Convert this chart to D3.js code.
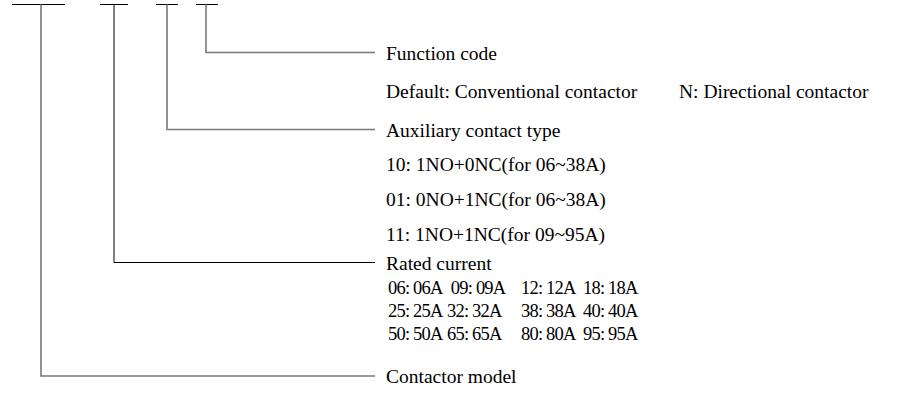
<!DOCTYPE html>
<html>
<head>
<meta charset="utf-8">
<script src="https://cdn.jsdelivr.net/npm/d3@7"></script>
<style>
    body { margin: 0; background: #fff; }
    text { font-family: "Liberation Serif", "Times New Roman", serif; font-size: 19.5px; fill: #000; white-space: pre; }
    text.cur { font-size: 18.5px; letter-spacing: -0.8px; }
</style>
</head>
<body>
<svg id="chart" width="923" height="405"></svg>
<script>
// Model number fields, left to right, and what each one means
var fields = ["Contactor model", "Rated current", "Auxiliary contact type", "Function code"];
var functionCodes = ["Default: Conventional contactor", "N: Directional contactor"];
var auxCodes = ["10: 1NO+0NC(for 06~38A)", "01: 0NO+1NC(for 06~38A)", "11: 1NO+1NC(for 09~95A)"];
var currentCodes = [
    ["06: 06A", " 09: 09A", "12: 12A", "18: 18A"],
    ["25: 25A", "32: 32A", "38: 38A", "40: 40A"],
    ["50: 50A", "65: 65A", "80: 80A", "95: 95A"]
];

var svg = d3.select("#chart");

// layout of the code slots at the top (bar from / to, stem) and the leader line heights
var slots = [
    {x0: 12, x1: 65, stem: 41, lead: 376, grey: true},
    {x0: 100, x1: 128, stem: 114, lead: 262.5, grey: false},
    {x0: 156, x1: 178, stem: 167, lead: 129.5, grey: true},
    {x0: 196, x1: 218, stem: 206, lead: 52.5, grey: true}
];
var topY = 4.5, lineEnd = 375, textX = 386;

var g = svg.append("g");

// top bars
g.selectAll("line.bar").data(slots).enter().append("line")
    .attr("class", "bar")
    .attr("x1", function (d) { return d.x0; })
    .attr("x2", function (d) { return d.x1; })
    .attr("y1", topY).attr("y2", topY)
    .attr("stroke", "#000").attr("stroke-width", 1);

// stems + leaders
g.selectAll("path.lead").data(slots).enter().append("path")
    .attr("class", "lead")
    .attr("fill", "none")
    .attr("stroke", function (d) { return d.grey ? "#7a7a7a" : "#000"; })
    .attr("stroke-width", function (d) { return d.grey ? 1.6 : 1; })
    .attr("d", function (d) {
        return "M" + d.stem + "," + topY + "V" + d.lead + "H" + lineEnd;
    });

// field names next to the end of each leader
g.selectAll("text.field").data(slots).enter().append("text")
    .attr("class", "field")
    .attr("x", textX)
    .attr("y", function (d) { return d.lead + 7; })
    .text(function (d, i) { return fields[i]; });

// function code explanation
var fnX = [textX, 679];
g.selectAll("text.fn").data(functionCodes).enter().append("text")
    .attr("x", function (d, i) { return fnX[i]; })
    .attr("y", 98)
    .text(function (d) { return d; });

// auxiliary contact options
var auxY = d3.scaleLinear().domain([0, 1]).range([171, 206]);
g.selectAll("text.aux").data(auxCodes).enter().append("text")
    .attr("x", textX)
    .attr("y", function (d, i) { return auxY(i); })
    .text(function (d) { return d; });

// rated current table (tight spacing like the original)
var colX = [textX + 2, textX + 61, textX + 135, textX + 197];
var rowY = d3.scaleLinear().domain([0, 1]).range([293.5, 316.5]);
var rows = g.selectAll("g.row").data(currentCodes).enter().append("g")
    .attr("transform", function (d, i) { return "translate(0," + rowY(i) + ")"; });
rows.selectAll("text").data(function (d) { return d; }).enter().append("text")
    .attr("class", "cur")
    .attr("x", function (d, j) { return colX[j]; })
    .text(function (d) { return d; });
</script>
</body>
</html>
